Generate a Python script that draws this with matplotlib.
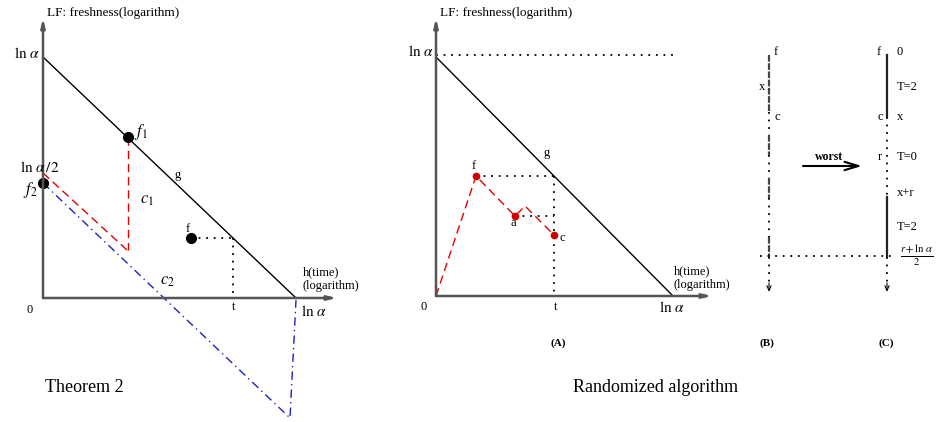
import matplotlib
matplotlib.use('Agg')
import matplotlib.pyplot as plt
import matplotlib as mpl
mpl.rcParams['mathtext.fontset'] = 'stix'
mpl.rcParams['font.family'] = 'serif'
mpl.rcParams['font.serif'] = ['Liberation Serif', 'DejaVu Serif']

# ---- left panel: Theorem 2 (pixel coordinates, y grows downward)
L_x0, L_y0 = 43, 298          # origin
L_lna_y = 57                  # ln alpha on the LF axis
L_lna_x = 296                 # ln alpha on the h axis
f1 = (128, 137)
c1_bottom = 250
red_left_x = [43, 127]
red_left_y = [173, 250]
f2 = (43, 183)
blue_x = [43, 290, 296]
blue_y = [183, 418, 300]
f_left = (191, 238)
t_left = 233

# ---- middle panel: randomized algorithm (A)
M_x0, M_y0 = 436, 296
M_lna_y = 57
M_lna_x = 673
path_x = [436, 476, 515, 525, 554]
path_y = [296, 176, 216, 206, 235]
f_mid = (476, 176)
a_mid = (515, 216)
c_mid = (554, 235)
t_mid = 554

# ---- right panels (B) and (C): line segments (top, bottom, style)
B_x = 769
B_segments = [(55, 112, 'dash'), (112, 135, 'dot'), (135, 155, 'dash'),
              (155, 178, 'dot'), (178, 198, 'dash'), (198, 237, 'dot'),
              (237, 257, 'dash'), (257, 287, 'dot')]
C_x = 887
C_segments = [(55, 117, 'solid'), (117, 197, 'dot'), (197, 257, 'solid'),
              (257, 287, 'dot')]
level_y = 256

fig = plt.figure(figsize=(9.48, 4.22), dpi=100)
ax = fig.add_axes([0, 0, 1, 1])
ax.set_xlim(0, 948)
ax.set_ylim(422, 0)
ax.axis('off')

serif = 'Liberation Serif'
axis_col = '#555555'
dot = (0, (1, 3.2))
red_dash = (0, (6, 3.5))
blue_dd = (0, (6, 3, 1, 3))

def axes_arrows(x0, y0, xend, ytop):
    ax.annotate('', xy=(x0, ytop), xytext=(x0, y0),
                arrowprops=dict(arrowstyle='-|>,head_length=0.5,head_width=0.12',
                                color=axis_col, lw=1.8, shrinkA=0, shrinkB=0))
    ax.annotate('', xy=(xend, y0), xytext=(x0, y0),
                arrowprops=dict(arrowstyle='-|>,head_length=0.5,head_width=0.12',
                                color=axis_col, lw=1.8, shrinkA=0, shrinkB=0))

# left panel
axes_arrows(L_x0, L_y0, 337, 18)
ax.plot([L_x0, L_lna_x], [L_lna_y, L_y0], color='black', lw=1)
ax.plot(blue_x, blue_y, color='#2020c0', lw=1, linestyle=blue_dd)
ax.plot(red_left_x, red_left_y, color='#e00000', lw=1, linestyle=red_dash)
ax.plot([f1[0], f1[0]], [f1[1], c1_bottom], color='#e00000', lw=1, linestyle=red_dash)
ax.plot([f_left[0], t_left], [f_left[1], f_left[1]], color='black', lw=1.3, linestyle=dot)
ax.plot([t_left, t_left], [f_left[1], L_y0], color='black', lw=1.3, linestyle=dot)
ax.plot([f1[0], f2[0], f_left[0]], [f1[1], f2[1], f_left[1]], 'o', color='black', ms=7)

tk = dict(fontsize=9, color='black', family=serif)
ax.text(47, 13, 'LF: freshness(logarithm)', fontsize=9.5, family=serif, va='center')
ax.text(40, 54, r'$\ln\,\alpha$', fontsize=11, ha='right', va='center')
ax.text(40, 168, r'$\ln\,\alpha\,/2$', fontsize=11, ha='center', va='center')
ax.text(30, 190, r'$f_2$', fontsize=12, ha='center', va='center')
ax.text(134, 132, r'$f_1$', fontsize=12, va='center')
ax.text(140, 200, r'$c_1$', fontsize=12, va='center')
ax.text(178, 175, 'g', **tk, ha='center', va='center')
ax.text(188, 229, 'f', **tk, ha='center', va='center')
ax.text(167, 281, r'$c_2$', fontsize=12, ha='center', va='center')
ax.text(234, 307, 't', **tk, ha='center', va='center')
ax.text(30, 310, '0', **tk, ha='center', va='center')
ax.text(301, 311, r'$\ln\,\alpha$', fontsize=11, va='center')
ax.text(303, 272, 'h(time)', **tk, va='center')
ax.text(303, 286, '(logarithm)', **tk, va='center')
ax.text(45, 388, 'Theorem 2', fontsize=13, family=serif, va='center')

# middle panel
axes_arrows(M_x0, M_y0, 712, 18)
ax.plot([M_x0, 673], [M_lna_y - 2, M_lna_y - 2], color='black', lw=1.3, linestyle=dot)
ax.plot([M_x0, M_lna_x], [M_lna_y, M_y0], color='black', lw=1)
ax.plot([f_mid[0], t_mid], [f_mid[1], f_mid[1]], color='black', lw=1.3, linestyle=dot)
ax.plot([a_mid[0], t_mid], [a_mid[1], a_mid[1]], color='black', lw=1.3, linestyle=dot)
ax.plot([t_mid, t_mid], [f_mid[1], M_y0], color='black', lw=1.3, linestyle=dot)
ax.plot(path_x, path_y, color='#e00000', lw=1, linestyle=red_dash)
ax.plot([f_mid[0], a_mid[0], c_mid[0]], [f_mid[1], a_mid[1], c_mid[1]], 'o',
        color='#d00000', ms=4.5)

ax.text(440, 13, 'LF: freshness(logarithm)', fontsize=9.5, family=serif, va='center')
ax.text(434, 52, r'$\ln\,\alpha$', fontsize=11, ha='right', va='center')
ax.text(547, 153, 'g', **tk, ha='center', va='center')
ax.text(474, 166, 'f', **tk, ha='center', va='center')
ax.text(513, 223, 'a', **tk, ha='center', va='center')
ax.text(562, 238, 'c', **tk, ha='center', va='center')
ax.text(424, 307, '0', **tk, ha='center', va='center')
ax.text(556, 307, 't', **tk, ha='center', va='center')
ax.text(672, 308, r'$\ln\,\alpha$', fontsize=11, ha='center', va='center')
ax.text(674, 271, 'h(time)', **tk, va='center')
ax.text(674, 285, '(logarithm)', **tk, va='center')
ax.text(558, 343, '(A)', fontsize=8, fontweight='bold', family=serif, ha='center', va='center')
ax.text(656, 388, 'Randomized algorithm', fontsize=13, family=serif, ha='center', va='center')

# right panels
styles = {'dash': dict(linestyle=(0, (3, 0.7)), lw=1.6, color='#444444'),
          'dot': dict(linestyle=dot, lw=1.3, color='black'),
          'solid': dict(linestyle='-', lw=1.6, color='#222222')}
for x, segs in [(B_x, B_segments), (C_x, C_segments)]:
    for top, bot, st in segs:
        ax.plot([x, x], [top, bot], **styles[st])
    ax.annotate('', xy=(x, 292), xytext=(x, 283),
                arrowprops=dict(arrowstyle='->,head_length=0.35,head_width=0.15',
                                color='black', lw=0.8, shrinkA=0, shrinkB=0))
ax.plot([760, 893], [level_y, level_y], color='black', lw=1.3, linestyle=dot)

ax.text(776, 52, 'f', **tk, ha='center', va='center')
ax.text(762, 87, 'x', **tk, ha='center', va='center')
ax.text(777, 117, 'c', **tk, ha='center', va='center')
ax.text(879, 52, 'f', **tk, ha='center', va='center')
ax.text(880, 117, 'c', **tk, ha='center', va='center')
ax.text(880, 157, 'r', **tk, ha='center', va='center')
ax.text(897, 52, '0', **tk, va='center')
ax.text(897, 87, 'T=2', **tk, va='center')
ax.text(897, 117, 'x', **tk, va='center')
ax.text(897, 157, 'T=0', **tk, va='center')
ax.text(897, 193, 'x+r', **tk, va='center')
ax.text(897, 227, 'T=2', **tk, va='center')
ax.text(900, 256, r'$\frac{r+\ln\,\alpha}{2}$', fontsize=11, va='center')
ax.annotate('', xy=(862, 166), xytext=(803, 166),
            arrowprops=dict(arrowstyle='->,head_length=1.0,head_width=0.3',
                            color='black', lw=1.5, shrinkA=0, shrinkB=0))
ax.text(829, 157, 'worst', fontsize=8.5, fontweight='bold', family=serif,
        ha='center', va='center')
ax.text(767, 343, '(B)', fontsize=8, fontweight='bold', family=serif, ha='center', va='center')
ax.text(886, 343, '(C)', fontsize=8, fontweight='bold', family=serif, ha='center', va='center')

fig.savefig('out.png', dpi=100)
